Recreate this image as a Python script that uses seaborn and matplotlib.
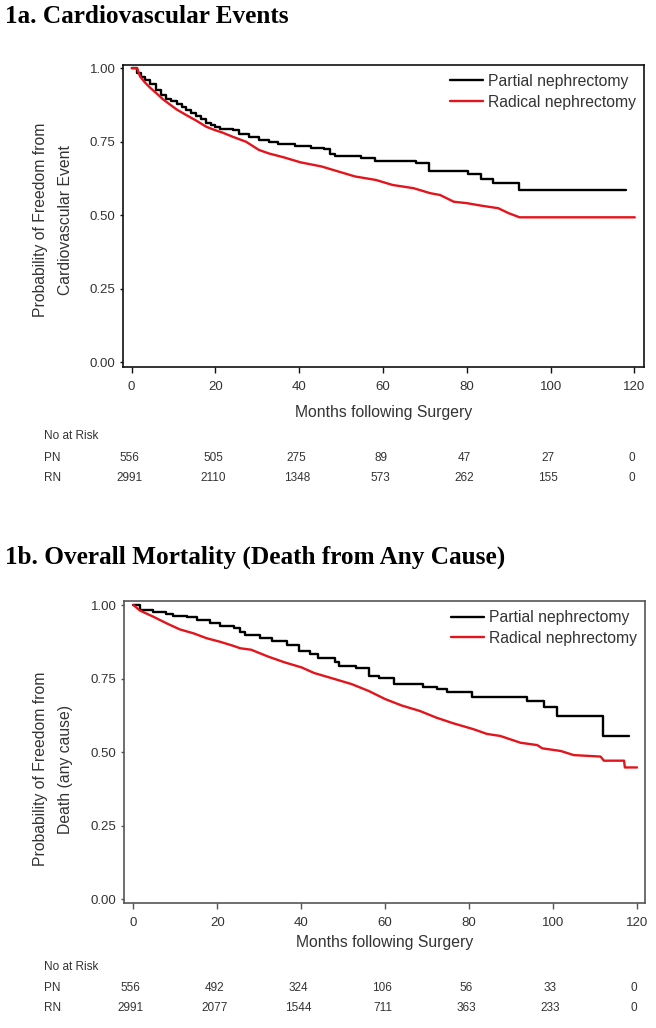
import matplotlib
matplotlib.use("Agg")
import matplotlib.pyplot as plt
import matplotlib.transforms as mtransforms
import seaborn as sns

# --- data ---
# 1a. cardiovascular events
pn_cv_t = [0, 1.3, 2.2, 3.2, 4.3, 5.9, 7.1, 8.1, 9.5, 10.7, 12.0, 13.0, 14.2, 15.4, 16.6,
           17.8, 19.0, 19.8, 21.0, 24.1, 25.7, 28.0, 30.4, 32.8, 35.0, 39.0, 42.8, 45.8,
           47.3, 48.5, 54.8, 58.0, 67.8, 71.0, 80.3, 83.3, 86.3, 92.4, 118.1]
pn_cv_s = [1.0, 0.983, 0.970, 0.960, 0.947, 0.926, 0.909, 0.894, 0.890, 0.878, 0.868, 0.858,
           0.848, 0.837, 0.826, 0.815, 0.806, 0.801, 0.795, 0.790, 0.776, 0.765, 0.756, 0.750,
           0.743, 0.734, 0.730, 0.725, 0.710, 0.703, 0.694, 0.686, 0.677, 0.652, 0.639, 0.623,
           0.609, 0.586, 0.586]
rn_cv_t = [0, 1.3, 2.0, 3.2, 4.3, 5.9, 7.5, 9.1, 10.7, 13.0, 15.4, 17.8, 19.8, 21.7, 24.1,
           27.3, 30.4, 32.8, 36.3, 40.3, 45.3, 49.3, 53.3, 58.3, 62.3, 67.3, 71.3, 73.6, 76.9,
           80.1, 83.3, 87.5, 90.0, 92.6, 120.1]
rn_cv_s = [1.0, 1.0, 0.972, 0.951, 0.935, 0.915, 0.894, 0.877, 0.860, 0.841, 0.822, 0.801,
           0.790, 0.781, 0.767, 0.750, 0.722, 0.710, 0.697, 0.680, 0.666, 0.649, 0.632, 0.620,
           0.603, 0.592, 0.575, 0.569, 0.546, 0.541, 0.533, 0.524, 0.507, 0.493, 0.493]

# 1b. overall mortality
pn_d_t = [0, 1.6, 4.8, 7.9, 9.5, 12.7, 15.1, 18.3, 20.7, 23.9, 25.5, 26.6, 30.1, 33.1, 36.6,
          39.6, 42.1, 44.1, 48.1, 49.1, 53.1, 56.1, 58.6, 62.1, 69.0, 72.5, 74.7, 80.8, 93.9,
          98.0, 101.0, 112.1, 118.1]
pn_d_s = [1.0, 0.983, 0.977, 0.969, 0.963, 0.960, 0.949, 0.938, 0.929, 0.921, 0.909, 0.899,
          0.887, 0.876, 0.865, 0.845, 0.834, 0.820, 0.808, 0.793, 0.786, 0.760, 0.752, 0.733,
          0.722, 0.715, 0.703, 0.688, 0.675, 0.652, 0.623, 0.556, 0.556]
rn_d_t = [0, 1.6, 4.8, 7.9, 11.1, 14.3, 17.5, 20.7, 23.9, 25.5, 28.1, 32.1, 36.1, 40.1, 43.1,
          48.1, 52.1, 56.1, 60.1, 64.1, 68.3, 72.3, 76.3, 81.1, 84.3, 87.5, 92.3, 96.3, 97.5,
          101.9, 105.0, 111.4, 112.2, 117.0, 117.2, 120.1]
rn_d_s = [1.0, 0.981, 0.960, 0.938, 0.917, 0.904, 0.887, 0.875, 0.861, 0.853, 0.848, 0.825,
          0.805, 0.788, 0.769, 0.748, 0.731, 0.708, 0.680, 0.658, 0.640, 0.617, 0.598, 0.578,
          0.562, 0.555, 0.532, 0.524, 0.513, 0.504, 0.490, 0.485, 0.471, 0.471, 0.448, 0.448]

# numbers at risk
risk_months = [0, 20, 40, 60, 80, 100, 120]
cv_pn_risk = [556, 505, 275, 89, 47, 27, 0]
cv_rn_risk = [2991, 2110, 1348, 573, 262, 155, 0]
d_pn_risk = [556, 492, 324, 106, 56, 33, 0]
d_rn_risk = [2991, 2077, 1544, 711, 363, 233, 0]

y_ticks = [0.0, 0.25, 0.50, 0.75, 1.00]
x_ticks = [0, 20, 40, 60, 80, 100, 120]

sns.set_style("white")
plt.rcParams["font.family"] = ["Liberation Sans", "DejaVu Sans"]

W, H = 656, 1028
fig = plt.figure(figsize=(W / 100, H / 100), dpi=100)

RED = "#e3141b"
GREY_TXT = "#333333"


def fy(px):
    # pixel row -> figure fraction
    return 1 - px / H


def km_panel(left, right, top, bottom, xlim, ylim, pn_t, pn_s, rn_t, rn_s,
             ylab, ylab_y, xlab_y, frame_col, title, title_y, risk_y, pn_risk, rn_risk):
    ax = fig.add_axes([left / W, fy(bottom), (right - left) / W, (bottom - top) / H])
    sns.lineplot(x=pn_t, y=pn_s, ax=ax, color="black", lw=1.7, drawstyle="steps-post",
                 estimator=None, sort=False, label="Partial nephrectomy")
    sns.lineplot(x=rn_t, y=rn_s, ax=ax, color=RED, lw=1.7,
                 estimator=None, sort=False, label="Radical nephrectomy")
    ax.set_xlim(*xlim)
    ax.set_ylim(*ylim)
    ax.set_xticks(x_ticks)
    ax.set_yticks(y_ticks)
    ax.set_yticklabels([f"{v:.2f}" for v in y_ticks])
    ax.tick_params(axis="y", length=2.5, width=1, pad=3, labelsize=9.5,
                   labelcolor=GREY_TXT, color=frame_col, left=True)
    ax.tick_params(axis="x", length=4, width=1, pad=6, labelsize=9.5,
                   labelcolor=GREY_TXT, color=frame_col, bottom=True)
    for sp in ax.spines.values():
        sp.set_color(frame_col)
        sp.set_linewidth(1.2)
    ax.set_ylabel("")
    ax.set_xlabel("Months following Surgery", fontsize=11.3, color=GREY_TXT, va="center")
    ax.xaxis.set_label_coords(0.5, (bottom - xlab_y) / (bottom - top))
    fig.text(53 / W, fy(ylab_y), ylab, rotation=90, ha="center", va="center",
             multialignment="center", fontsize=11.3, color=GREY_TXT, linespacing=1.85)
    leg = ax.legend(loc="upper left", bbox_to_anchor=(0.627, 1 - 9 / (bottom - top)),
                    frameon=False, fontsize=11.3, handlelength=2.1, handletextpad=0.35,
                    labelspacing=0.38, borderpad=0, borderaxespad=0)
    for t in leg.get_texts():
        t.set_color(GREY_TXT)

    fig.text(5 / W, fy(title_y), title, fontsize=18.2, fontweight="bold", color="black",
             family=["Liberation Serif", "DejaVu Serif"], va="baseline", ha="left")

    # number at risk table
    tr = mtransforms.blended_transform_factory(ax.transData, fig.transFigure)
    fig.text(44 / W, fy(risk_y[0]), "No at Risk", fontsize=8.5, color=GREY_TXT, va="center")
    fig.text(44 / W, fy(risk_y[1]), "PN", fontsize=8.5, color=GREY_TXT, va="center")
    fig.text(44 / W, fy(risk_y[2]), "RN", fontsize=8.5, color=GREY_TXT, va="center")
    for m, a, b in zip(risk_months, pn_risk, rn_risk):
        ax.text(m - 0.6, fy(risk_y[1]), str(a), transform=tr, ha="center", va="center",
                fontsize=8.5, color=GREY_TXT)
        ax.text(m - 0.6, fy(risk_y[2]), str(b), transform=tr, ha="center", va="center",
                fontsize=8.5, color=GREY_TXT)
    return ax


km_panel(123.3, 644, 64.7, 367, (-2.0, 122.3), (-0.016, 1.012),
         pn_cv_t, pn_cv_s, rn_cv_t, rn_cv_s,
         "Probability of Freedom from\nCardiovascular Event", 220, 412.7, "#111111",
         "1a. Cardiovascular Events", 23.3, (435.7, 457.7, 478.3), cv_pn_risk, cv_rn_risk)

km_panel(124.3, 645, 601, 903.3, (-2.15, 122.0), (-0.0136, 1.0136),
         pn_d_t, pn_d_s, rn_d_t, rn_d_s,
         "Probability of Freedom from\nDeath (any cause)", 769, 943, "#555555",
         "1b. Overall Mortality (Death from Any Cause)", 563.3, (966.7, 988, 1008),
         d_pn_risk, d_rn_risk)

plt.savefig("out.png", dpi=100)
